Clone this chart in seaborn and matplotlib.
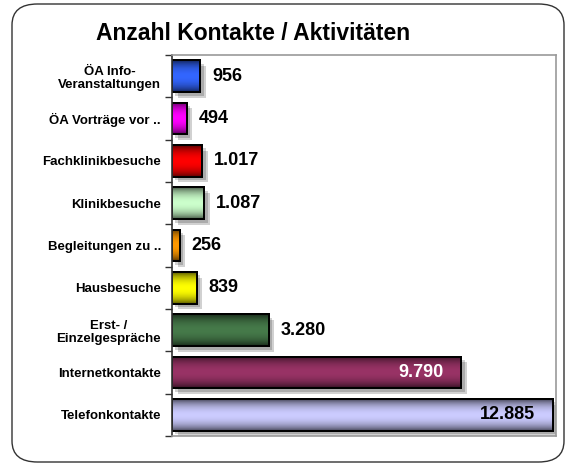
import numpy as np
import pandas as pd
import matplotlib
matplotlib.use("Agg")
import matplotlib.pyplot as plt
import seaborn as sns
from matplotlib.patches import FancyBboxPatch
import matplotlib.patheffects as pe
from matplotlib.colors import to_rgb

categories = ["ÖA Info-\nVeranstaltungen", "ÖA Vorträge vor ..", "Fachklinikbesuche",
              "Klinikbesuche", "Begleitungen zu ..", "Hausbesuche",
              "Erst- /\nEinzelgespräche", "Internetkontakte", "Telefonkontakte"]
values = [956, 494, 1017, 1087, 256, 839, 3280, 9790, 12885]
value_labels = ["956", "494", "1.017", "1.087", "256", "839", "3.280", "9.790", "12.885"]
colors = ["#3366ff", "#ff00ff", "#ff0000", "#ccffcc", "#ff9900", "#ffff00",
          "#467a4a", "#993366", "#ccccff"]

sns.set_style("white")
plt.rcParams['font.family'] = ['Liberation Sans', 'DejaVu Sans']
plt.rcParams['text.color'] = 'black'
plt.rcParams['ytick.color'] = 'black'
plt.rcParams['ytick.labelcolor'] = 'black'

df = pd.DataFrame({"cat": categories, "val": values})

fig = plt.figure(figsize=(5.66, 4.66), dpi=100)
# rounded frame
frame = FancyBboxPatch((12 / 566, 4 / 466), (566 - 12 - 2) / 566, (462 - 4) / 466,
                       boxstyle="round,pad=0,rounding_size=0.045",
                       transform=fig.transFigure, facecolor="white",
                       edgecolor="#333333", linewidth=1.0, zorder=-10)
fig.patches.append(frame)

ax = fig.add_axes([172 / 566, 1 - 436 / 466, (556 - 172) / 566, (436 - 55) / 466])
ax.set_zorder(1)
sns.barplot(data=df, x="val", y="cat", hue="cat", palette=colors, legend=False,
            orient="h", width=0.75, ax=ax, edgecolor="black", linewidth=1.4,
            saturation=1)
ax.set_xlim(0, 13000)
ax.set_ylim(len(categories) - 0.5, -0.5)

# gradient shading and shadows
for i, p in enumerate(list(ax.patches)):
    p.set_path_effects([pe.SimplePatchShadow(offset=(4, -4), shadow_rgbFace="#000000", alpha=0.18),
                        pe.SimplePatchShadow(offset=(2.5, -2.5), shadow_rgbFace="#000000", alpha=0.18),
                        pe.Normal()])
    x0, y0 = p.get_x(), p.get_y()
    w, h = p.get_width(), p.get_height()
    base = np.array(to_rgb(colors[i]))
    t = np.linspace(0, 1, 64)
    shade = 0.3 + 0.7 * np.clip(np.sin(np.pi * t), 0, 1) ** 0.7
    grad = np.clip(base[None, :] * shade[:, None], 0, 1)
    grad = grad[:, None, :]
    im = ax.imshow(grad, extent=(x0, x0 + w, y0 + h, y0), aspect="auto",
                   interpolation="bilinear", zorder=p.get_zorder() + 0.1)
    im.set_clip_path(p)
    ax.add_patch(plt.Rectangle((x0, y0), w, h, fill=False, edgecolor="black",
                               linewidth=1.4, zorder=p.get_zorder() + 0.2))

ax.set_xlim(0, 13000)
ax.set_ylim(len(categories) - 0.5, -0.5)
ax.set_aspect("auto")

# value labels
for i, (v, lab) in enumerate(zip(values, value_labels)):
    if v > 9000:
        col = "white" if i == 7 else "black"
        ax.text(v - 600, i, lab, ha="right", va="center", fontsize=13,
                fontweight="bold", color=col, zorder=5)
    else:
        ax.text(v + 400, i, lab, ha="left", va="center", fontsize=13,
                fontweight="bold", color="black", zorder=5)

ax.set_xlabel("")
ax.set_ylabel("")
ax.set_xticks([])
ax.set_yticks(range(len(categories)))
ax.set_yticklabels(categories, fontsize=9.5, fontweight="bold", multialignment="center")
ax.tick_params(axis="y", which="major", length=0, pad=8)
ax.set_yticks(np.arange(-0.5, len(categories), 1), minor=True)
ax.tick_params(axis="y", which="minor", length=5, width=1, color="#333333", left=True)
for s in ["top", "right", "bottom"]:
    ax.spines[s].set_color("#9a9a9a")
    ax.spines[s].set_linewidth(1.2)
ax.spines["left"].set_color("#333333")
ax.spines["left"].set_linewidth(1.2)

fig.text(253 / 566, 1 - 33 / 466, "Anzahl Kontakte / Aktivitäten", ha="center",
         va="center", fontsize=16.5, fontweight="bold", color="black")

fig.savefig("out.png", dpi=100)
